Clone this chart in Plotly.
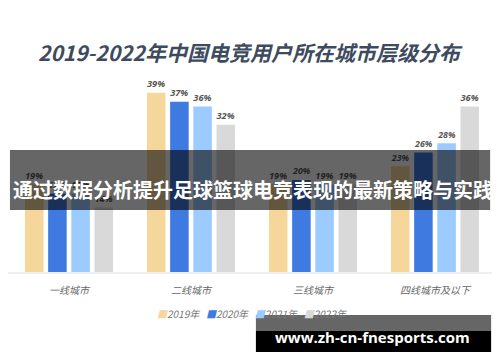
import plotly.graph_objects as go

categories = ["一线城市", "二线城市", "三线城市", "四线城市及以下"]
years = ["2019年", "2020年", "2021年", "2022年"]
v2019 = [19, 39, 19, 23]
v2020 = [17, 37, 20, 26]
v2021 = [17, 36, 19, 28]
v2022 = [14, 32, 19, 36]
series = [v2019, v2020, v2021, v2022]
colors = ["#f5d79b", "#3f7ae0", "#9ccbff", "#d9d9d9"]

title_text = "2019-2022年中国电竞用户所在城市层级分布"
banner_text = "通过数据分析提升足球篮球电竞表现的最新策略与实践"
watermark_text = "www.zh-cn-fnesports.com"

fig = go.Figure()
for name, vals, col in zip(years, series, colors):
    fig.add_trace(go.Bar(
        x=categories, y=vals, name=name, showlegend=False,
        marker=dict(color=col, line=dict(width=0)),
        text=[f"{v}%" for v in vals], textposition="outside",
        textfont=dict(family="Noto Sans", size=10, color="#555555", style="italic", weight="bold"),
        cliponaxis=False,
    ))

# page body has an 8px margin, so the figure is sized/offset to compensate
fig.update_layout(
    width=492, height=354,
    margin=dict(l=0, r=4, t=52, b=90, autoexpand=False),
    paper_bgcolor="white", plot_bgcolor="white",
    barmode="group", bargap=0.24, bargroupgap=0.2,
    showlegend=False,
    xaxis=dict(showgrid=False, showline=True, linecolor="#eeeeee", linewidth=2, automargin=False,
               ticks="", ticklabelstandoff=8,
               tickfont=dict(family="Noto Sans CJK SC", size=10, color="#666666", style="italic")),
    yaxis=dict(range=[0, 46.1], visible=False, automargin=False),
)

# legend built from series names and colours
legend_html = "   ".join(
    f"<span style='color:{c}'>■</span>{n}" for n, c in zip(years, colors)
)
fig.add_annotation(text=legend_html, xref="paper", yref="paper", x=0.5, y=-0.198,
                   showarrow=False, xanchor="center", yanchor="middle",
                   font=dict(family="Noto Sans CJK SC", size=10, color="#777777", style="italic"))

fig.add_annotation(text=title_text, xref="paper", yref="paper", x=0.496, y=1.038,
                   showarrow=False, xanchor="center", yanchor="middle",
                   font=dict(family="Noto Sans CJK SC", size=21, color="#3e4b5e", weight="bold", style="italic"))

# banner overlay
fig.add_shape(type="rect", xref="paper", yref="paper", x0=0.004, x1=0.988, y0=0.292, y1=0.575,
              fillcolor="rgba(0,0,0,0.6)", line=dict(width=0), layer="above")
fig.add_annotation(text=banner_text, xref="paper", yref="paper", x=0.502, y=0.39,
                   showarrow=False, xanchor="center", yanchor="middle",
                   font=dict(family="Noto Sans CJK SC", size=20, color="white", weight="bold"))

# watermark box
fig.add_shape(type="rect", xref="paper", yref="paper", x0=0.508, x1=0.99, y0=-0.278, y1=-0.203,
              fillcolor="rgba(0,0,0,0.6)", line=dict(width=0), layer="above")
fig.add_shape(type="rect", xref="paper", yref="paper", x0=0.508, x1=0.99, y0=-0.377, y1=-0.278,
              fillcolor="#000000", line=dict(width=0), layer="above")
fig.add_annotation(text=watermark_text, xref="paper", yref="paper", x=0.747, y=-0.307,
                   showarrow=False, xanchor="center", yanchor="middle",
                   font=dict(family="Open Sans", size=15, color="white", weight="bold"))

fig.write_html("out.html", config={"displayModeBar": False})
